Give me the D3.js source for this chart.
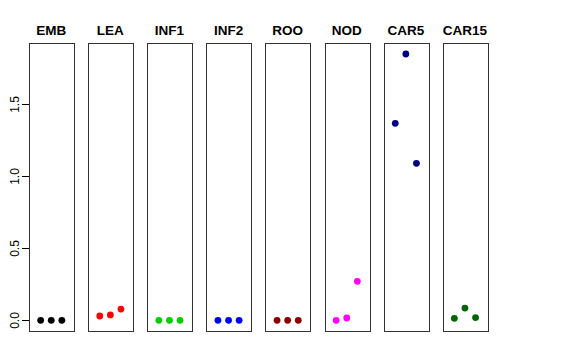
<!DOCTYPE html>
<html>
<head>
<meta charset="utf-8">
<script src="https://cdn.jsdelivr.net/npm/d3@7"></script>
<style>
  body { margin: 0; background: #fff; }
  text { font-family: "Liberation Sans", Arial, sans-serif; }
</style>
</head>
<body>
<svg id="chart" width="576" height="360"></svg>
<script>
"use strict";

// Panel names and per-panel replicate values
const tissues = ['EMB', 'LEA', 'INF1', 'INF2', 'ROO', 'NOD', 'CAR5', 'CAR15'];
const colors = ['#000000', '#FF0000', '#00CD00', '#0000FF', '#8B0000', '#FF00FF', '#000080', '#006400'];
const valuesEMB = [0, 0, 0];
const valuesLEA = [0.03, 0.037, 0.078];
const valuesINF1 = [0, 0, 0];
const valuesINF2 = [0, 0, 0];
const valuesROO = [0, 0, 0];
const valuesNOD = [0, 0.016, 0.27];
const valuesCAR5 = [1.364, 1.844, 1.087];
const valuesCAR15 = [0.014, 0.085, 0.019];
const yTicks = [0, 0.5, 1.0, 1.5];

const allValues = [valuesEMB, valuesLEA, valuesINF1, valuesINF2, valuesROO, valuesNOD, valuesCAR5, valuesCAR15];

const svg = d3.select('#chart');

const panelW = 44.5;
const firstLeft = 29;
const step = 59.1;
const plotTop = 43;
const plotBottom = 331;

const y = d3.scaleLinear().domain([-0.074, 1.92]).range([plotBottom, plotTop]);

// y axis
const yAxis = svg.append('g');
yTicks.forEach(t => {
    const yy = Math.round(y(t)) + 0.5;
    yAxis.append('line')
        .attr('x1', 22).attr('x2', firstLeft)
        .attr('y1', yy).attr('y2', yy)
        .attr('stroke', '#000');
    yAxis.append('text')
        .attr('transform', 'translate(18.5,' + yy + ') rotate(-90)')
        .attr('text-anchor', 'middle')
        .style('font-size', '12px')
        .text(d3.format('.1f')(t));
});

tissues.forEach((name, i) => {
    const left = firstLeft + i * step;
    const x = d3.scaleLinear().domain([-0.1, 4.1]).range([left, left + panelW]);
    const g = svg.append('g');

    g.append('rect')
        .attr('x', Math.round(left) + 0.5)
        .attr('y', plotTop + 0.5)
        .attr('width', Math.round(panelW))
        .attr('height', plotBottom - plotTop)
        .attr('fill', 'none')
        .attr('stroke', '#333')
        .attr('stroke-width', 1);

    g.append('text')
        .attr('x', left + panelW / 2)
        .attr('y', 35)
        .attr('text-anchor', 'middle')
        .style('font-size', '13.5px')
        .style('font-weight', 'bold')
        .text(name);

    g.selectAll('circle')
        .data(allValues[i])
        .enter().append('circle')
        .attr('cx', (d, j) => x(j + 1))
        .attr('cy', d => y(d))
        .attr('r', 3.4)
        .attr('fill', colors[i]);
});
</script>
</body>
</html>
